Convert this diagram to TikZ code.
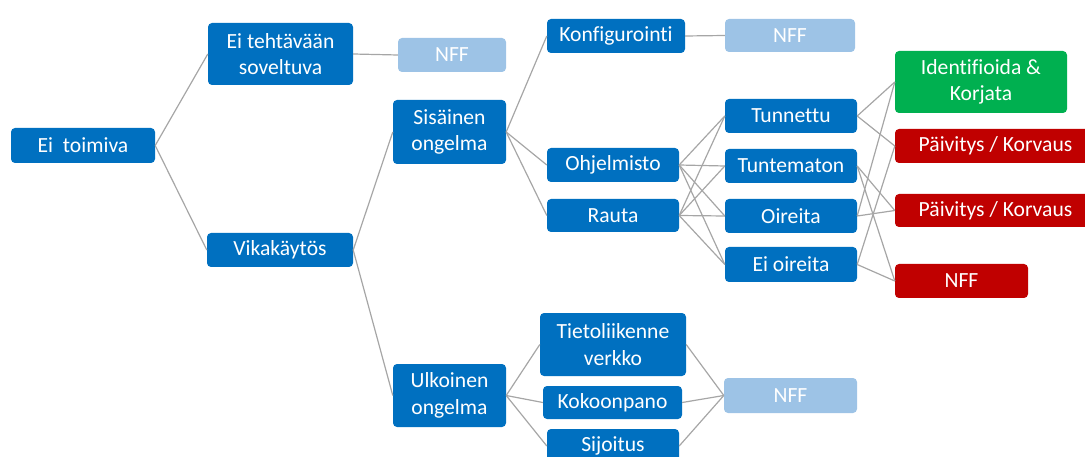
\documentclass[tikz,border=0pt]{standalone}
\usepackage{fontspec}
\setmainfont[Ligatures=NoCommon]{Carlito}
\definecolor{boxblue}{HTML}{0070C0}
\definecolor{paleblue}{HTML}{9DC3E6}
\definecolor{boxgreen}{HTML}{00B050}
\definecolor{boxred}{HTML}{C00000}
\definecolor{linkgray}{HTML}{A6A6A6}
\begin{document}
\begin{tikzpicture}[x=1pt,y=-1pt,
  card/.style={rounded corners=4pt, inner sep=0pt, align=center, text=white,
    font=\fontsize{21.6}{26.5}\selectfont},
  bluebox/.style={card, fill=boxblue},
  palebox/.style={card, fill=paleblue},
  greenbox/.style={card, fill=boxgreen},
  redbox/.style={card, fill=boxred},
  link/.style={draw=linkgray, line width=1.2pt}]
\useasboundingbox (0,0) rectangle (1085,457);
\clip (0,0) rectangle (1085,457);

% first levels
\node[bluebox, minimum width=144pt, minimum height=35pt] (eitoim) at (83,145.5) {Ei\ \ toimiva};
\node[bluebox, minimum width=145pt, minimum height=62pt] (eiteht) at (280.5,54) {Ei tehtävään\\soveltuva};
\node[bluebox, minimum width=146pt, minimum height=34pt] (vika) at (280,250) {Vikakäytös};
\node[palebox, minimum width=108pt, minimum height=34pt] (nffa) at (452,55) {NFF};
\node[bluebox, minimum width=113pt, minimum height=64pt] (sis) at (449.5,132) {Sisäinen\\ongelma};
\node[bluebox, minimum width=113pt, minimum height=63pt] (ulk) at (449.5,395.5) {Ulkoinen\\ongelma};

% internal problem branch
\node[bluebox, minimum width=138pt, minimum height=34pt] (konf) at (616,36) {Konfigurointi};
\node[palebox, minimum width=130pt, minimum height=33pt] (nffb) at (790,35.5) {NFF};
\node[bluebox, minimum width=132pt, minimum height=34pt] (ohj) at (613,165) {Ohjelmisto};
\node[bluebox, minimum width=132pt, minimum height=33pt] (rauta) at (613,215.5) {Rauta};
\node[bluebox, minimum width=132pt, minimum height=34pt] (tunn) at (791,116) {Tunnettu};
\node[bluebox, minimum width=132pt, minimum height=34pt] (tuntem) at (791,166) {Tuntematon};
\node[bluebox, minimum width=132pt, minimum height=34pt] (oir) at (791,216) {Oireita};
\node[bluebox, minimum width=132pt, minimum height=35pt] (eioir) at (791,264.5) {Ei oireita};
\node[greenbox, minimum width=172pt, minimum height=62pt] (ident) at (981,82) {Identifioida \&\\Korjata};
\node[redbox, minimum width=201pt, minimum height=34pt] (paiva) at (995.5,146) {Päivitys / Korvaus};
\node[redbox, minimum width=201pt, minimum height=33pt] (paivb) at (995.5,210.5) {Päivitys / Korvaus};
\node[redbox, minimum width=133pt, minimum height=34pt] (nffd) at (961.5,281) {NFF};

% external problem branch
\node[bluebox, minimum width=146pt, minimum height=63pt] (tiet) at (613,344.5) {Tietoliikenne\\verkko};
\node[bluebox, minimum width=139pt, minimum height=33pt] (koko) at (612.5,402.5) {Kokoonpano};
\node[bluebox, minimum width=132pt, minimum height=34pt] (sij) at (613,446) {Sijoitus};
\node[palebox, minimum width=133pt, minimum height=35pt] (nffc) at (790.5,395.5) {NFF};

% connectors
\draw[link] (eitoim.east) -- (eiteht.west);
\draw[link] (eitoim.east) -- (vika.west);
\draw[link] (eiteht.east) -- (nffa.west);
\draw[link] (vika.east) -- (sis.west);
\draw[link] (vika.east) -- (ulk.west);
\draw[link] (sis.east) -- (konf.west);
\draw[link] (sis.east) -- (ohj.west);
\draw[link] (sis.east) -- (rauta.west);
\draw[link] (konf.east) -- (nffb.west);
\foreach \src in {ohj,rauta}
  \foreach \dst in {tunn,tuntem,oir,eioir}
    \draw[link] (\src.east) -- (\dst.west);
\draw[link] (tunn.east) -- (ident.west);
\draw[link] (tunn.east) -- (paiva.west);
\draw[link] (tuntem.east) -- (paivb.west);
\draw[link] (tuntem.east) -- (nffd.west);
\draw[link] (oir.east) -- (ident.west);
\draw[link] (oir.east) -- (paivb.west);
\draw[link] (eioir.east) -- (paiva.west);
\draw[link] (eioir.east) -- (nffd.west);
\draw[link] (ulk.east) -- (tiet.west);
\draw[link] (ulk.east) -- (koko.west);
\draw[link] (ulk.east) -- (sij.west);
\draw[link] (tiet.east) -- (nffc.west);
\draw[link] (koko.east) -- (nffc.west);
\draw[link] (sij.east) -- (nffc.west);
\end{tikzpicture}
\end{document}
